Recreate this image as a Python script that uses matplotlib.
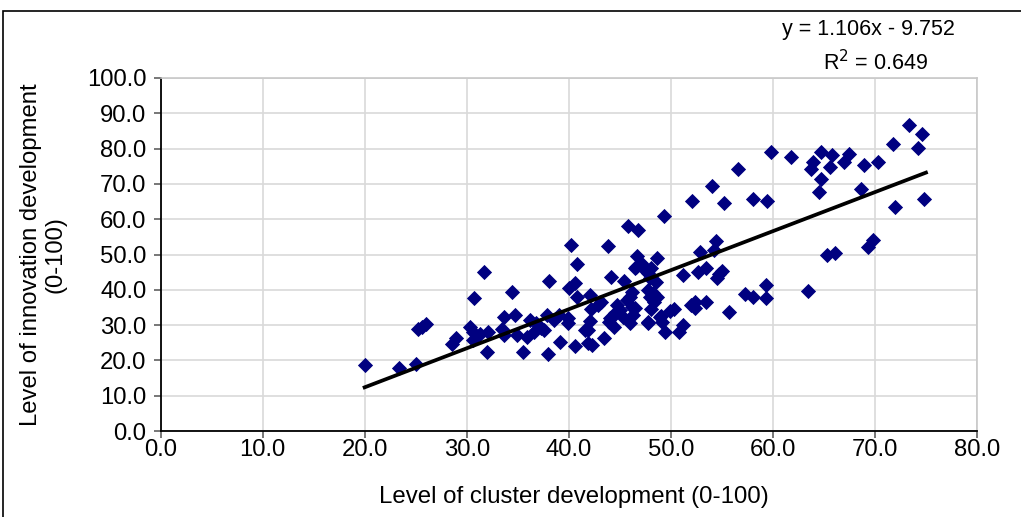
import matplotlib
matplotlib.use("Agg")
import matplotlib.pyplot as plt
from matplotlib.patches import Rectangle
import numpy as np

plt.rcParams['font.family'] = ['Liberation Sans', 'DejaVu Sans']

# Level of cluster development (x) and level of innovation development (y)
cluster = [
    20.0, 23.4, 25.0, 25.2, 25.6, 26.0, 28.6, 29.0, 30.3, 30.6,
    30.6, 30.7, 31.7, 31.3, 32.1, 32.0, 33.5, 33.7, 34.7, 34.4,
    34.9, 35.5, 36.2, 35.9, 36.6, 37.3, 36.8, 37.9, 38.0, 38.1,
    38.6, 39.0, 39.1, 37.6, 40.2, 40.8, 40.0, 40.6, 40.8, 39.9,
    39.9, 40.6, 41.9, 42.3, 41.9, 42.1, 42.2, 42.1, 42.9, 43.5,
    43.8, 44.1, 44.0, 44.4, 44.5, 44.7, 45.4, 45.0, 45.7, 46.0,
    46.2, 45.3, 46.0, 46.2, 46.3, 45.8, 46.8, 46.7, 46.6, 47.1,
    47.5, 47.8, 48.6, 48.0, 48.5, 48.3, 47.8, 48.0, 48.6, 48.4,
    48.1, 47.8, 49.0, 49.4, 49.9, 50.3, 50.8, 51.2, 51.2, 52.0,
    52.4, 52.4, 53.4, 52.7, 53.4, 52.9, 54.2, 54.4, 54.7, 55.0,
    54.5, 55.7, 57.3, 58.1, 59.3, 59.3, 63.4, 65.3, 66.1, 69.3,
    69.8, 49.3, 52.1, 54.0, 55.2, 56.6, 58.1, 59.4, 59.8, 61.8,
    63.7, 63.9, 64.7, 65.8, 65.6, 64.7, 64.5, 67.0, 67.5, 68.9,
    70.3, 68.6, 71.8, 73.3, 74.6, 74.2, 72.0, 74.8, 43.9, 44.2,
    47.8, 48.9, 46.5, 33.7, 46.5, 47.5, 48.1, 43.2, 41.6, 49.1,
]
innovation = [
    18.8, 17.8, 18.9, 29.0, 29.6, 30.2, 24.7, 26.4, 29.6, 28.1,
    25.8, 37.6, 45.1, 27.5, 28.1, 22.5, 28.9, 32.3, 32.8, 39.3,
    27.3, 22.5, 31.4, 26.7, 28.1, 29.3, 30.5, 33.0, 21.9, 42.4,
    31.4, 32.9, 25.3, 28.6, 52.7, 47.3, 40.4, 41.8, 38.0, 31.9,
    30.5, 24.2, 24.8, 24.5, 28.6, 31.2, 34.5, 38.5, 35.8, 26.3,
    52.3, 43.5, 31.9, 29.5, 33.3, 35.7, 42.6, 34.3, 37.1, 38.0,
    39.5, 32.4, 30.5, 35.2, 32.9, 58.2, 57.0, 49.6, 46.4, 47.5,
    45.6, 44.7, 48.9, 43.3, 42.3, 39.2, 40.0, 38.0, 38.0, 36.5,
    34.6, 31.0, 32.7, 28.0, 34.0, 34.6, 28.1, 30.0, 44.2, 35.7,
    36.6, 34.8, 36.6, 45.1, 46.3, 50.8, 51.3, 53.9, 44.5, 45.3,
    43.3, 33.8, 38.8, 38.0, 41.4, 37.6, 39.7, 49.9, 50.5, 52.0,
    54.2, 60.8, 65.2, 69.4, 64.5, 74.1, 65.6, 65.2, 79.1, 77.5,
    74.1, 76.1, 79.1, 78.2, 74.7, 71.4, 67.8, 76.3, 78.6, 75.4,
    76.3, 68.6, 81.3, 86.7, 84.1, 80.1, 63.4, 65.6, 31.0, 32.4,
    30.5, 32.4, 34.8, 27.2, 46.1, 46.1, 46.1, 36.6, 28.6, 31.0,
]

# Trendline shown on the chart
slope = 1.106
intercept = -9.752
r_squared = 0.649
trend_x = [20.0, 75.0]

x_ticks = [0, 10, 20, 30, 40, 50, 60, 70, 80]
y_ticks = [0, 10, 20, 30, 40, 50, 60, 70, 80, 90, 100]

W, H = 1021, 517
fig = plt.figure(figsize=(W / 100, H / 100), dpi=100)
ax = fig.add_axes([160.5 / W, 1 - 431 / H, (977 - 160.5) / W, (431 - 78) / H])

ax.scatter(cluster, innovation, marker='D', s=60, color='#000080', zorder=3, linewidths=0)
tx = np.array(trend_x)
ax.plot(tx, slope * tx + intercept, color='black', lw=2.7, zorder=4)

ax.set_xlim(0, 80)
ax.set_ylim(0, 100)
ax.set_xticks(x_ticks)
ax.set_yticks(y_ticks)
ax.set_xticklabels([f"{v:.1f}" for v in x_ticks])
ax.set_yticklabels([f"{v:.1f}" for v in y_ticks])
ax.grid(True, color='#d9d9d9', lw=1.2, zorder=0)
ax.set_axisbelow(True)
for side in ['top', 'right']:
    ax.spines[side].set_color('#c8c8c8')
    ax.spines[side].set_linewidth(1.2)
for side in ['left', 'bottom']:
    ax.spines[side].set_color('black')
    ax.spines[side].set_linewidth(1.3)
ax.tick_params(axis='both', direction='out', length=5, width=1.2, color='#606060',
               labelsize=17.2)
ax.tick_params(axis='x', pad=1)
ax.tick_params(axis='y', pad=5)

fig.text(574 / W, 1 - 497 / H, "Level of cluster development (0-100)",
         ha='center', va='center', fontsize=17.3)
fig.text(43 / W, 1 - 255 / H, "Level of innovation development\n(0-100)",
         ha='center', va='center', rotation=90, multialignment='center',
         fontsize=17.2, linespacing=1.15)

sign = '-' if intercept < 0 else '+'
fig.text(868 / W, 1 - 30 / H, f"y = {slope:.3f}x {sign} {abs(intercept):.3f}",
         ha='center', va='center', fontsize=15.5)
fig.text(876 / W, 1 - 63 / H, f"R$^2$ = {r_squared:.3f}",
         ha='center', va='center', fontsize=15.5)

fig.patches.append(Rectangle((3 / W, -0.05), 1.1, 1.05 - 11 / H,
                             transform=fig.transFigure, fill=False,
                             edgecolor='black', lw=1.2))

fig.savefig("out.png", dpi=100)
